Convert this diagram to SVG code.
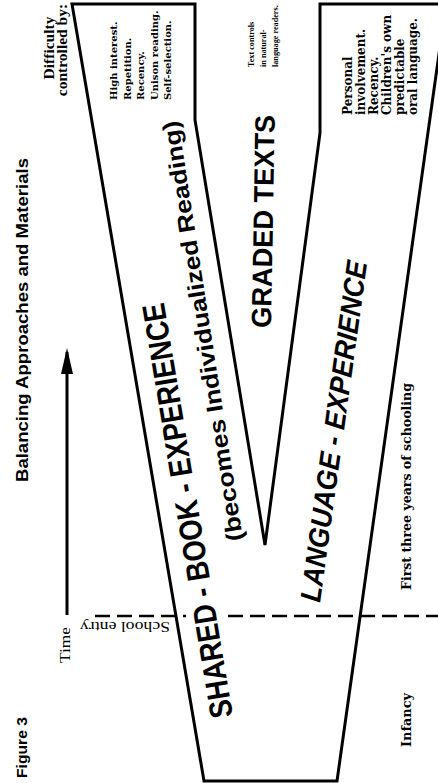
<svg xmlns="http://www.w3.org/2000/svg" width="438" height="783" viewBox="0 0 438 783">
<style>
.outline{fill:#fff;stroke:#000;stroke-width:3;stroke-linejoin:miter}
.dash{stroke:#000;stroke-width:2.5;stroke-dasharray:15 7;fill:none}
.big{font-family:"Liberation Sans",Arial,sans-serif;font-weight:bold;fill:#000}
.serif{font-family:"DejaVu Serif","Liberation Serif",serif;font-weight:bold;fill:#000}
.times{font-family:"Liberation Serif","Times New Roman",serif;fill:#000}
.small{font-family:"DejaVu Serif","Liberation Serif",serif;font-weight:bold;fill:#000}
.tiny{font-family:"Liberation Serif","Times New Roman",serif;font-weight:bold;fill:#000}
</style>
<rect width="438" height="783" fill="#fff"/>
<g id="v-shape">
<path class="outline" d="M72,4 H195 V120 L265,545 L320,133 V4 H446 L337,781 H204 Z"/>
</g>
<g id="connectors">
<line x1="67" y1="615" x2="67" y2="352" stroke="#000" stroke-width="3"/>
<path d="M67,348 L73,374 L61,374 Z" fill="#000"/>
<path class="dash" d="M95,616 H186 M228,616 H438"/>
</g>
<g id="title">
<text class="big" font-size="17" text-anchor="middle" transform="translate(28,320) rotate(-90)" textLength="324" lengthAdjust="spacingAndGlyphs">Balancing Approaches and Materials</text>
<text class="big" font-size="15" transform="translate(27,778) rotate(-90)" textLength="61" lengthAdjust="spacingAndGlyphs">Figure 3</text>
</g>
<g id="difficulty-label">
<text class="times" font-weight="bold" font-size="15.5" text-anchor="middle" transform="translate(54,48) rotate(-90)">Difficulty</text>
<text class="times" font-weight="bold" font-size="15.5" text-anchor="middle" transform="translate(67,50) rotate(-90)">controlled by:</text>
</g>
<g id="time-label">
<text class="times" font-size="15" transform="translate(70,663) rotate(-90)" textLength="36" lengthAdjust="spacingAndGlyphs">Time</text>
<text class="times" font-size="14" transform="translate(170,622) rotate(180)" textLength="90" lengthAdjust="spacingAndGlyphs">School entry</text>
</g>
<g id="shared-book">
<text class="big" font-size="32" transform="translate(233,716) rotate(-99.5)" textLength="420" lengthAdjust="spacingAndGlyphs">SHARED - BOOK - EXPERIENCE</text>
<text class="big" font-size="23" transform="translate(243,540) rotate(-98.8)" textLength="425" lengthAdjust="spacingAndGlyphs">(becomes Individualized Reading)</text>
<g id="shared-controls" font-size="10">
<text class="small" transform="translate(117,100) rotate(-90)">High interest.</text>
<text class="small" transform="translate(130.5,100) rotate(-90)">Repetition.</text>
<text class="small" transform="translate(144,100) rotate(-90)">Recency.</text>
<text class="small" transform="translate(157.5,100) rotate(-90)">Unison reading.</text>
<text class="small" transform="translate(171,100) rotate(-90)">Self-selection.</text>
</g>
</g>
<g id="graded-texts">
<text class="big" font-size="28" transform="translate(271,328) rotate(-89)" textLength="213" lengthAdjust="spacingAndGlyphs">GRADED TEXTS</text>
<g id="graded-controls" font-size="8.2">
<text class="tiny" transform="translate(254,67) rotate(-90)">Text controls</text>
<text class="tiny" transform="translate(266,67) rotate(-90)">in natural-</text>
<text class="tiny" transform="translate(278,67) rotate(-90)">language readers.</text>
</g>
</g>
<g id="language-experience">
<text class="big" font-size="29" font-style="italic" transform="translate(320,603) rotate(-82.1)" textLength="344" lengthAdjust="spacingAndGlyphs">LANGUAGE - EXPERIENCE</text>
<g id="language-controls" font-size="12">
<text class="small" transform="translate(352,115) rotate(-90)">Personal</text>
<text class="small" transform="translate(365,115) rotate(-90)">involvement.</text>
<text class="small" transform="translate(378,115) rotate(-90)">Recency.</text>
<text class="small" transform="translate(391,115) rotate(-90)">Children's own</text>
<text class="small" transform="translate(404,115) rotate(-90)">predictable</text>
<text class="small" transform="translate(417,115) rotate(-90)">oral language.</text>
</g>
</g>
<g id="period-labels">
<text class="serif" font-size="12" transform="translate(411,590) rotate(-90)" textLength="207" lengthAdjust="spacingAndGlyphs">First three years of schooling</text>
<text class="serif" font-size="12" transform="translate(411,747) rotate(-90)" textLength="54" lengthAdjust="spacingAndGlyphs">Infancy</text>
</g>
</svg>
